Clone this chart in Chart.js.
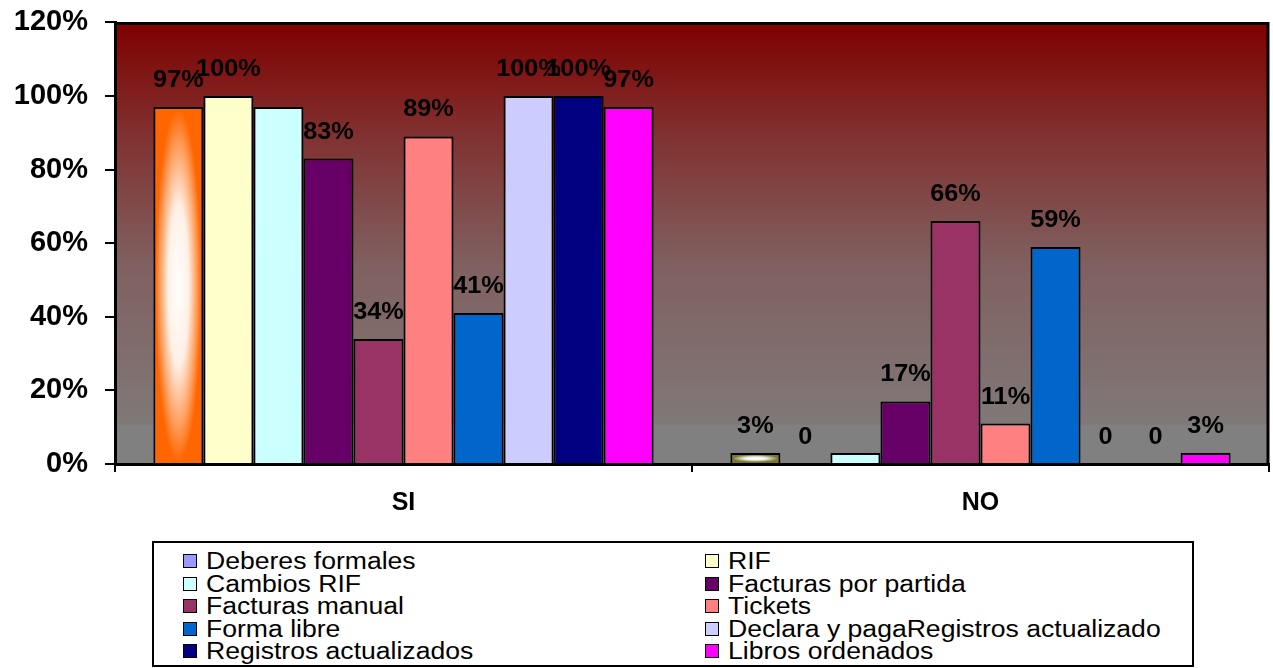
<!DOCTYPE html>
<html>
<head>
<meta charset="utf-8">
<script src="https://cdn.jsdelivr.net/npm/chart.js@4/dist/chart.umd.min.js"></script>
<style>
  html, body { margin: 0; padding: 0; background: #fff; overflow: hidden; }
  #wrap { position: relative; width: 1273px; height: 668px; overflow: hidden; }
  #chart { position: absolute; left: 0; top: -12px; }
  #legend {
    position: absolute; left: 152px; top: 541px; width: 1042px; height: 126px;
    border: 2px solid #000; box-sizing: border-box; background: #fff;
    font-family: 'Liberation Sans', Arial, sans-serif;
  }
  .item { position: absolute; height: 22px; display: flex; align-items: center; white-space: nowrap; }
  .sw { width: 12px; height: 12px; border: 1.5px solid #000; margin-right: 9px; flex: none; }
  .txt { font-size: 23px; line-height: 22px; display: inline-block; transform: scaleX(1.155); transform-origin: 0 50%; color: #000; }
</style>
</head>
<body>
<div id="wrap">
  <canvas id="chart" width="1273" height="680"></canvas>
  <div id="legend"></div>
</div>
<script>
// Categories and series
const categories = ['SI', 'NO'];
const seriesNames = [
  'Deberes formales', 'RIF', 'Cambios RIF', 'Facturas por partida', 'Facturas manual',
  'Tickets', 'Forma libre', 'Declara y pagaRegistros actualizado', 'Registros actualizados', 'Libros ordenados'
];
const siValues = [97, 100, 97, 83, 34, 89, 41, 100, 100, 97];
const noValues = [3, 0, 3, 17, 66, 11, 59, 0, 0, 3];
// Whether each series prints its value above the bars
const showValue = [true, true, false, true, true, true, true, true, true, true];
const yTickValues = [0, 20, 40, 60, 80, 100, 120];

// Colours
const barColors = ['#FF6600', '#FFFFCC', '#CCFFFF', '#660066', '#993366', '#FF8080', '#0066CC', '#CCCCFF', '#000080', '#FF00FF'];
const firstSeriesColors = ['#FF6600', '#77772E'];
const legendColors = ['#9999FF', '#FFFFCC', '#CCFFFF', '#660066', '#993366', '#FF8080', '#0066CC', '#CCCCFF', '#000080', '#FF00FF'];

const FONT = "'Liberation Sans', Arial, sans-serif";
Chart.defaults.font.family = FONT;
Chart.defaults.color = '#000';

const datasets = seriesNames.map((name, i) => ({
  label: name,
  data: [siValues[i], noValues[i]],
  backgroundColor: i === 0 ? firstSeriesColors : barColors[i],
  borderColor: '#000',
  borderWidth: 2,
  categoryPercentage: 0.867,
  barPercentage: 1.0
}));

// Plot background: dark red fading to grey
const plotBackground = {
  id: 'plotBackground',
  beforeDraw(chart) {
    const { ctx, chartArea: a } = chart;
    const g = ctx.createLinearGradient(0, a.top, 0, a.bottom);
    g.addColorStop(0, '#800000');
    g.addColorStop(0.25, '#80302f');
    g.addColorStop(0.55, '#806060');
    g.addColorStop(0.91, '#807878');
    g.addColorStop(0.912, '#808080');
    g.addColorStop(1, '#808080');
    ctx.save();
    ctx.fillStyle = g;
    ctx.fillRect(a.left, a.top, a.right - a.left, a.bottom - a.top);
    ctx.restore();
  }
};

// Light centre on the first series' bars
const barShine = {
  id: 'barShine',
  afterDatasetDraw(chart, args) {
    if (args.index !== 0) return;
    const ctx = chart.ctx;
    args.meta.data.forEach(el => {
      const { x, y, base, width } = el.getProps(['x', 'y', 'base', 'width'], true);
      const left = x - width / 2 + 2, right = x + width / 2 - 2;
      const top = y + 2, bottom = base - 1;
      if (bottom - top < 2) return;
      ctx.save();
      ctx.beginPath();
      ctx.rect(left, top, right - left, bottom - top);
      ctx.clip();
      ctx.translate(x, (top + bottom) / 2);
      ctx.scale((right - left) / 2, (bottom - top) / 2);
      const g = ctx.createRadialGradient(0, 0, 0, 0, 0, 1);
      g.addColorStop(0, 'rgba(255,255,255,1)');
      g.addColorStop(0.45, 'rgba(255,255,255,0.9)');
      g.addColorStop(0.8, 'rgba(255,255,255,0.35)');
      g.addColorStop(1, 'rgba(255,255,255,0)');
      ctx.fillStyle = g;
      ctx.fillRect(-1, -1, 2, 2);
      ctx.restore();
    });
  }
};

// Value labels above the bars
const valueLabels = {
  id: 'valueLabels',
  afterDatasetsDraw(chart) {
    const ctx = chart.ctx;
    ctx.save();
    ctx.font = 'bold 23px ' + FONT;
    ctx.textAlign = 'center';
    ctx.textBaseline = 'alphabetic';
    ctx.fillStyle = '#000';
    chart.data.datasets.forEach((ds, i) => {
      if (!showValue[i]) return;
      chart.getDatasetMeta(i).data.forEach((el, j) => {
        const v = ds.data[j];
        const text = v === 0 ? '0' : v + '%';
        const { x, y } = el.getProps(['x', 'y'], true);
        ctx.save();
        ctx.translate(x, y - 20);
        ctx.scale(1.1, 1);
        ctx.fillText(text, 0, 0);
        ctx.restore();
      });
    });
    ctx.restore();
  }
};

// Top and right edges of the plot frame
const plotFrame = {
  id: 'plotFrame',
  afterDraw(chart) {
    const { ctx, chartArea: a } = chart;
    ctx.save();
    ctx.strokeStyle = '#000';
    ctx.lineWidth = 3;
    ctx.beginPath();
    ctx.moveTo(a.left, a.top + 1);
    ctx.lineTo(a.right - 1, a.top + 1);
    ctx.lineTo(a.right - 1, a.bottom);
    ctx.stroke();
    ctx.restore();
  }
};

new Chart(document.getElementById('chart'), {
  type: 'bar',
  data: { labels: categories, datasets },
  options: {
    responsive: false,
    animation: false,
    devicePixelRatio: 1,
    layout: { autoPadding: false, padding: { top: 22, right: 4, bottom: 144, left: 0 } },
    plugins: { legend: { display: false }, tooltip: { enabled: false } },
    scales: {
      x: {
        offset: true,
        grid: { drawOnChartArea: false, drawTicks: true, tickLength: 8, color: '#000', lineWidth: 2, offset: true },
        border: { display: true, color: '#000', width: 3 },
        ticks: { font: { size: 25, weight: 'bold' }, color: '#000', padding: 16 },
        afterFit(scale) { scale.height = 60; }
      },
      y: {
        min: 0, max: 120,
        afterBuildTicks(scale) { scale.ticks = yTickValues.map(v => ({ value: v })); },
        grid: { drawOnChartArea: false, drawTicks: true, tickLength: 10, color: '#000', lineWidth: 2 },
        border: { display: true, color: '#000', width: 3 },
        ticks: { font: { size: 29, weight: 'bold' }, color: '#000', padding: 17, callback: v => v + '%' },
        afterFit(scale) { scale.width = 115; }
      }
    }
  },
  plugins: [plotBackground, barShine, valueLabels, plotFrame]
});

// Two-column legend box
const legendEl = document.getElementById('legend');
const colLeft = [29, 551];
seriesNames.forEach((name, i) => {
  const item = document.createElement('div');
  item.className = 'item';
  item.style.left = colLeft[i % 2] + 'px';
  item.style.top = (7 + Math.floor(i / 2) * 22.5) + 'px';
  const sw = document.createElement('span');
  sw.className = 'sw';
  sw.style.background = legendColors[i];
  const txt = document.createElement('span');
  txt.className = 'txt';
  txt.textContent = name;
  item.appendChild(sw);
  item.appendChild(txt);
  legendEl.appendChild(item);
});
</script>
</body>
</html>
